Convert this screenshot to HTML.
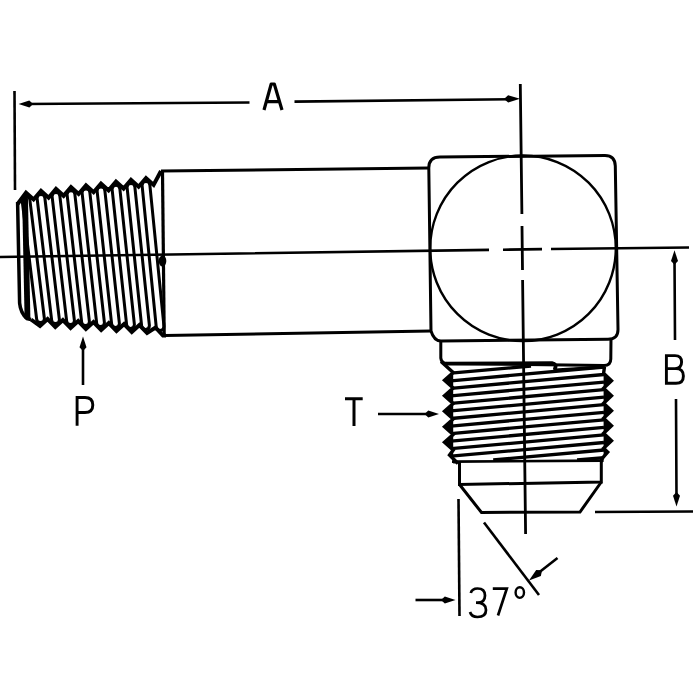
<!DOCTYPE html>
<html><head><meta charset="utf-8"><style>
html,body{margin:0;padding:0;background:#fff;width:700px;height:700px;overflow:hidden}
svg{display:block}
</style></head><body>
<svg width="700" height="700" viewBox="0 0 700 700">
<path d="M17.6,204.0 L26.0,192.6 L33.6,199.5 L41.0,190.8 L48.6,197.7 L56.0,188.9 L63.6,195.8 L71.0,187.1 L78.6,194.0 L86.0,185.3 L93.6,192.2 L101.0,183.5 L108.6,190.4 L116.0,181.7 L123.6,188.6 L131.0,179.8 L138.6,186.7 L146.0,178.0 L153.6,184.9 L161.0,171.0" fill="none" stroke="#000" stroke-width="4" stroke-linejoin="miter" stroke-miterlimit="6"/>
<path d="M17.6,202 L19.6,303 Q20.5,313 27,318.6 L31,319.5" fill="none" stroke="#000" stroke-width="3.5"/>
<path d="M31.0,319.5 L40.0,326.0 L47.6,319.0 L55.3,327.0 L62.9,320.0 L70.6,328.0 L78.2,321.0 L85.9,329.0 L93.5,322.0 L101.2,330.0 L108.8,323.0 L116.5,331.0 L124.1,324.0 L131.8,332.0 L139.4,325.0 L147.1,333.0 L155.5,327.5 L163.0,335.5 L166.0,335.5" fill="none" stroke="#000" stroke-width="4" stroke-linejoin="miter" stroke-miterlimit="6"/>
<path d="M22.1,200.1 Q22.1,196.2 26.0,196.2 Q29.9,196.2 29.9,200.1 L44.4,318.7 Q44.4,322.6 40.5,322.6 Q36.6,322.6 36.6,318.7 Z" fill="none" stroke="#000" stroke-width="3.0"/>
<path d="M37.1,198.3 Q37.1,194.4 41.0,194.4 Q44.9,194.4 44.9,198.3 L59.4,319.7 Q59.4,323.6 55.5,323.6 Q51.6,323.6 51.6,319.7 Z" fill="none" stroke="#000" stroke-width="3.0"/>
<path d="M52.1,196.4 Q52.1,192.5 56.0,192.5 Q59.9,192.5 59.9,196.4 L74.4,320.7 Q74.4,324.6 70.5,324.6 Q66.6,324.6 66.6,320.7 Z" fill="none" stroke="#000" stroke-width="3.0"/>
<path d="M67.1,194.6 Q67.1,190.7 71.0,190.7 Q74.9,190.7 74.9,194.6 L89.4,321.7 Q89.4,325.6 85.5,325.6 Q81.6,325.6 81.6,321.7 Z" fill="none" stroke="#000" stroke-width="3.0"/>
<path d="M82.1,192.8 Q82.1,188.9 86.0,188.9 Q89.9,188.9 89.9,192.8 L104.4,322.7 Q104.4,326.6 100.5,326.6 Q96.6,326.6 96.6,322.7 Z" fill="none" stroke="#000" stroke-width="3.0"/>
<path d="M97.1,191.0 Q97.1,187.1 101.0,187.1 Q104.9,187.1 104.9,191.0 L119.4,323.6 Q119.4,327.5 115.5,327.5 Q111.6,327.5 111.6,323.6 Z" fill="none" stroke="#000" stroke-width="3.0"/>
<path d="M112.1,189.2 Q112.1,185.2 116.0,185.2 Q119.9,185.2 119.9,189.2 L134.4,324.6 Q134.4,328.5 130.5,328.5 Q126.6,328.5 126.6,324.6 Z" fill="none" stroke="#000" stroke-width="3.0"/>
<path d="M127.1,187.3 Q127.1,183.4 131.0,183.4 Q134.9,183.4 134.9,187.3 L149.4,325.6 Q149.4,329.5 145.5,329.5 Q141.6,329.5 141.6,325.6 Z" fill="none" stroke="#000" stroke-width="3.0"/>
<path d="M142.1,185.5 Q142.1,181.6 146.0,181.6 Q149.9,181.6 149.9,185.5 L164.0,326.6 Q164.0,330.5 160.1,330.5 Q156.2,330.5 156.2,326.6 Z" fill="none" stroke="#000" stroke-width="3.0"/>
<path d="M162.5,171.5 L164.2,335" fill="none" stroke="#000" stroke-width="3.2"/>
<ellipse cx="162.5" cy="261" rx="3.8" ry="5.5" fill="#000"/>
<path d="M25,196 L27.5,319" stroke="#000" stroke-width="5.8" fill="none"/>
<path d="M161,171 L429,168" stroke="#000" stroke-width="3.0" fill="none"/>
<path d="M165,335.5 L431,331" stroke="#000" stroke-width="3.0" fill="none"/>
<path d="M440,157 L605,155.5 Q615,155.5 615.3,166 L618,329 Q618.2,339.3 608,339.3 L441,341 Q434,341 431,331 L428.8,168 Q428.8,157 440,157 Z" fill="none" stroke="#000" stroke-width="3.0"/>
<circle cx="523" cy="248.3" r="92.8" fill="none" stroke="#000" stroke-width="2.4"/>
<path d="M440.8,341 L440.8,358 Q441.3,363.5 447,363.5 L604,365.5 Q610.8,365.5 610.8,359 L611,338.3" fill="none" stroke="#000" stroke-width="3.0"/>
<path d="M441.0,361.5 L453.2,372.6 L444.5,380.3 L453.2,388.1 L444.5,395.8 L453.2,403.6 L444.5,411.3 L453.2,419.1 L444.5,426.8 L453.2,434.6 L444.5,442.3 L453.2,450.1 L449.5,455.0 L458.0,463.5" fill="none" stroke="#000" stroke-width="3.4" stroke-miterlimit="6"/>
<path d="M453.2,372.6 L444.5,380.3 L453.2,388.1 L444.5,395.8 L453.2,403.6 L444.5,411.3 L453.2,419.1 L444.5,426.8 L453.2,434.6 L444.5,442.3 L453.2,450.1 L449.5,455.0 L458.0,463.5 L453.2,463.5 L453.2,372.6 Z" fill="#000"/>
<path d="M604.5,366.5 L603.6,373.3 L611.5,380.7 L603.6,388.3 L611.5,395.7 L603.6,403.3 L611.5,410.7 L603.6,418.3 L611.5,425.7 L603.6,433.3 L611.5,440.7 L603.6,448.3 L607.7,452.2 L602.0,458.6 L601.0,462.0" fill="none" stroke="#000" stroke-width="3.4" stroke-miterlimit="6"/>
<path d="M603.6,373.3 L611.5,380.7 L603.6,388.3 L611.5,395.7 L603.6,403.3 L611.5,410.7 L603.6,418.3 L611.5,425.7 L603.6,433.3 L611.5,440.7 L603.6,448.3 L607.7,452.2 L602.0,458.6 L601.0,462.0 L603.6,462 L603.6,373.3 Z" fill="#000"/>
<line x1="451.0" y1="373.2" x2="531.0" y2="366.0" stroke="#000" stroke-width="3.3"/>
<line x1="451.0" y1="380.8" x2="604.0" y2="367.0" stroke="#000" stroke-width="3.3"/>
<line x1="451.0" y1="388.3" x2="604.0" y2="374.5" stroke="#000" stroke-width="3.3"/>
<line x1="451.0" y1="395.8" x2="604.0" y2="382.1" stroke="#000" stroke-width="3.3"/>
<line x1="451.0" y1="403.4" x2="604.0" y2="389.6" stroke="#000" stroke-width="3.3"/>
<line x1="451.0" y1="410.9" x2="604.0" y2="397.2" stroke="#000" stroke-width="3.3"/>
<line x1="451.0" y1="418.5" x2="604.0" y2="404.7" stroke="#000" stroke-width="3.3"/>
<line x1="451.0" y1="426.1" x2="604.0" y2="412.3" stroke="#000" stroke-width="3.3"/>
<line x1="451.0" y1="433.6" x2="604.0" y2="419.8" stroke="#000" stroke-width="3.3"/>
<line x1="451.0" y1="441.1" x2="604.0" y2="427.4" stroke="#000" stroke-width="3.3"/>
<line x1="451.0" y1="448.7" x2="604.0" y2="434.9" stroke="#000" stroke-width="3.3"/>
<line x1="451.0" y1="456.2" x2="604.0" y2="442.5" stroke="#000" stroke-width="3.3"/>
<line x1="493.2" y1="460.0" x2="604.0" y2="450.0" stroke="#000" stroke-width="3.3"/>
<line x1="577.1" y1="460.0" x2="604.0" y2="457.6" stroke="#000" stroke-width="3.3"/>
<path d="M446,363.6 L552,363.2 Q557,364 555,368.5" fill="none" stroke="#000" stroke-width="3.8" stroke-linecap="round"/>
<path d="M555,370 L604,367" fill="none" stroke="#000" stroke-width="3"/>
<path d="M452,461.6 L603,460.6" stroke="#000" stroke-width="2.6"/>
<path d="M459.5,461 L459.5,484.5 L601.3,482 L601.3,461" fill="none" stroke="#000" stroke-width="3.0"/>
<path d="M459.5,484.5 L481.5,512.5 L580,512 L601.3,482" fill="none" stroke="#000" stroke-width="3.0"/>
<path d="M0,257 L489,249.9 M503,249.7 L542,249.1 M551,249 L689,247.5" stroke="#000" stroke-width="2.6" fill="none"/>
<path d="M520.3,84 L521.9,214 M522,226 L522.5,270 M522.6,280 L525.6,534" stroke="#000" stroke-width="2.8" fill="none"/>
<path d="M14.5,91 L15,190" stroke="#000" stroke-width="2.6"/>
<path d="M25,104 L249.5,102.5 M294.5,101.6 L510,99.2" stroke="#000" stroke-width="2.6"/>
<path d="M18.6,104.0 L29.3,100.4 L33.1,103.9 L29.4,107.4 Z" fill="#000"/>
<path d="M520.0,98.8 L508.2,102.5 L504.0,98.9 L508.1,95.3 Z" fill="#000"/>
<path d="M264,110 L271.2,84 L274.3,84 L282,110 M266.5,101.6 L279.5,101.6" stroke="#000" stroke-width="3.2" fill="none" stroke-linejoin="round"/>
<path d="M674.5,258 L675,340 M676,399 L676.5,498" stroke="#000" stroke-width="2.6"/>
<path d="M674.5,250.3 L678.0,261.0 L674.5,264.8 L671.0,261.0 Z" fill="#000"/>
<path d="M676.5,506.5 L673.0,495.8 L676.5,492.0 L680.0,495.8 Z" fill="#000"/>
<path d="M595,512 L693,511.5" stroke="#000" stroke-width="2.6"/>
<path d="M666.4,368.6 L676,368.6 Q683.4,368.6 683.4,376 Q683.4,383.3 676,383.3 L666.4,383.3 L666.4,355.6 L675,355.6 Q681.6,355.6 681.6,362.1 Q681.6,368.6 675,368.6" stroke="#000" stroke-width="2.9" fill="none"/>
<path d="M83,385 L83,345" stroke="#000" stroke-width="2.6"/>
<path d="M83.0,336.6 L86.5,347.3 L83.0,351.1 L79.5,347.3 Z" fill="#000"/>
<path d="M77.1,425.7 L77.1,397.5 L85,397.5 Q92.8,397.5 92.8,405 Q92.8,412.5 85,412.5 L77.1,412.5" stroke="#000" stroke-width="2.9" fill="none"/>
<path d="M345,398.7 L362.7,398.7 M354,398.7 L354,426" stroke="#000" stroke-width="3" fill="none"/>
<path d="M378,414 L430,414" stroke="#000" stroke-width="2.6"/>
<path d="M439.0,414.0 L428.3,417.5 L424.5,414.0 L428.3,410.5 Z" fill="#000"/>
<path d="M458.5,499 L459.5,616" stroke="#000" stroke-width="2.6"/>
<path d="M484,522.5 L539,595" stroke="#000" stroke-width="2.6"/>
<path d="M557.5,558 L537,574" stroke="#000" stroke-width="2.6"/>
<path d="M529.0,580.5 L536.2,570.0 L542.0,570.3 L540.9,575.9 Z" fill="#000"/>
<path d="M415.5,600 L447,600" stroke="#000" stroke-width="2.6"/>
<path d="M455.5,600.0 L444.8,603.5 L441.0,600.0 L444.8,596.5 Z" fill="#000"/>
<path d="M470.8,593 Q472,588.5 477.5,588.5 Q485,588.5 485,595.5 Q485,602.7 477.5,602.7 L476,602.7 Q486,602.7 486,610 Q486,617 477.5,617 Q471.5,617 470,612" stroke="#000" stroke-width="2.7" fill="none"/>
<path d="M492.8,588.7 L506.8,588.7 L498,615.5" stroke="#000" stroke-width="2.7" fill="none"/>
<ellipse cx="519.8" cy="592.6" rx="4.2" ry="5.3" stroke="#000" stroke-width="2.4" fill="none"/>
</svg>
</body></html>
